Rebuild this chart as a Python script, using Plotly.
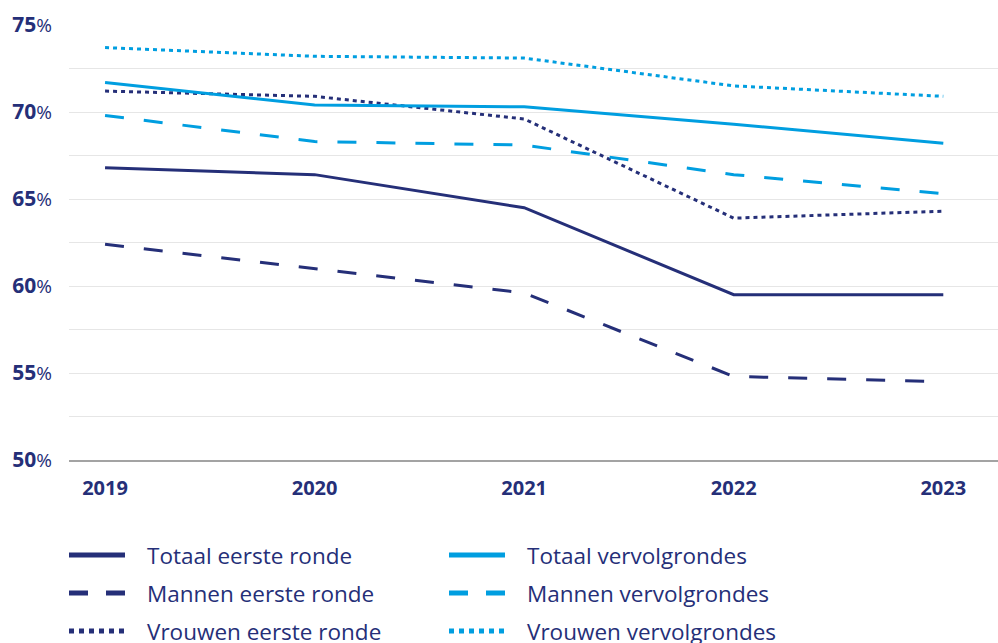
import plotly.graph_objects as go

years = [2019, 2020, 2021, 2022, 2023]
series_names = [
    "Totaal eerste ronde", "Mannen eerste ronde", "Vrouwen eerste ronde",
    "Totaal vervolgrondes", "Mannen vervolgrondes", "Vrouwen vervolgrondes",
]
totaal_eerste = [66.8, 66.4, 64.5, 59.5, 59.5]
mannen_eerste = [62.4, 61.0, 59.6, 54.8, 54.5]
vrouwen_eerste = [71.2, 70.9, 69.6, 63.9, 64.3]
totaal_vervolg = [71.7, 70.4, 70.3, 69.3, 68.2]
mannen_vervolg = [69.8, 68.3, 68.1, 66.4, 65.3]
vrouwen_vervolg = [73.7, 73.2, 73.1, 71.5, 70.9]
y_ticks = [50, 52.5, 55, 57.5, 60, 62.5, 65, 67.5, 70, 72.5, 75]

NAVY = "#252f78"
BLUE = "#009ee0"
FONT = "Open Sans"

values = [totaal_eerste, mannen_eerste, vrouwen_eerste,
          totaal_vervolg, mannen_vervolg, vrouwen_vervolg]
colors = [NAVY, NAVY, NAVY, BLUE, BLUE, BLUE]
dashes = ["solid", "19px,20px", "4px,4px", "solid", "19px,20px", "4px,4px"]
legend_dashes = ["solid", "19px,18px", "5px,5px", "solid", "19px,18px", "5px,5px"]

W, H = 998, 643
ML, MR, MT, MB = 69, 0, 25, 183
PW, PH = W - ML - MR, H - MT - MB

def pxx(p):
    return (p - ML) / PW

def pxy(p):
    return (H - MB - p) / PH

fig = go.Figure()
for name, vals, c, d in zip(series_names, values, colors, dashes):
    fig.add_trace(go.Scatter(x=years, y=vals, mode="lines", name=name,
                             line=dict(color=c, width=3, dash=d),
                             showlegend=False, hoverinfo="x+y+name"))

def ylab(v):
    if v % 5 != 0:
        return ""
    return f"<b>{int(v)}</b><span style='font-size:19px'>%</span>"

# manual legend
shapes = []
annotations = []
col_x = [(69, 125, 145), (449, 505, 525)]
row_y = [555, 593, 631]
for i, (name, c, d) in enumerate(zip(series_names, colors, legend_dashes)):
    col = i // 3
    row = i % 3
    x0, x1, xt = col_x[col]
    y = row_y[row]
    shapes.append(dict(type="line", xref="paper", yref="paper",
                       x0=pxx(x0), x1=pxx(x1), y0=pxy(y), y1=pxy(y),
                       line=dict(color=c, width=5, dash=d)))
    annotations.append(dict(text=name, xref="paper", yref="paper",
                            x=pxx(xt), y=pxy(y), xanchor="left", yanchor="middle",
                            showarrow=False, font=dict(family=FONT, size=22.5, color=NAVY)))

fig.update_layout(
    width=W, height=H,
    margin=dict(l=ML, r=MR, t=MT, b=MB),
    plot_bgcolor="white", paper_bgcolor="white",
    font=dict(family=FONT, color=NAVY),
    shapes=shapes, annotations=annotations,
    showlegend=False,
)
fig.update_xaxes(
    range=[2018.828, 2023.261], tickvals=years,
    ticktext=[f"<b>{y}</b>" for y in years],
    tickfont=dict(family=FONT, size=20, color=NAVY),
    showgrid=False, zeroline=False,
    showline=True, linecolor="#a3a3a3", linewidth=2,
    ticks="", ticklabelstandoff=9,
)
fig.update_yaxes(
    range=[50, 75], tickvals=y_ticks, ticktext=[ylab(v) for v in y_ticks],
    tickfont=dict(family=FONT, size=21, color=NAVY),
    showgrid=True, gridcolor="#e6e6e6", gridwidth=1,
    zeroline=False, showline=False, ticks="", ticklabelstandoff=16,
)

fig.write_html("out.html", config={"displayModeBar": False},
               post_script="document.body.style.margin='0px';document.body.style.overflow='hidden';")
